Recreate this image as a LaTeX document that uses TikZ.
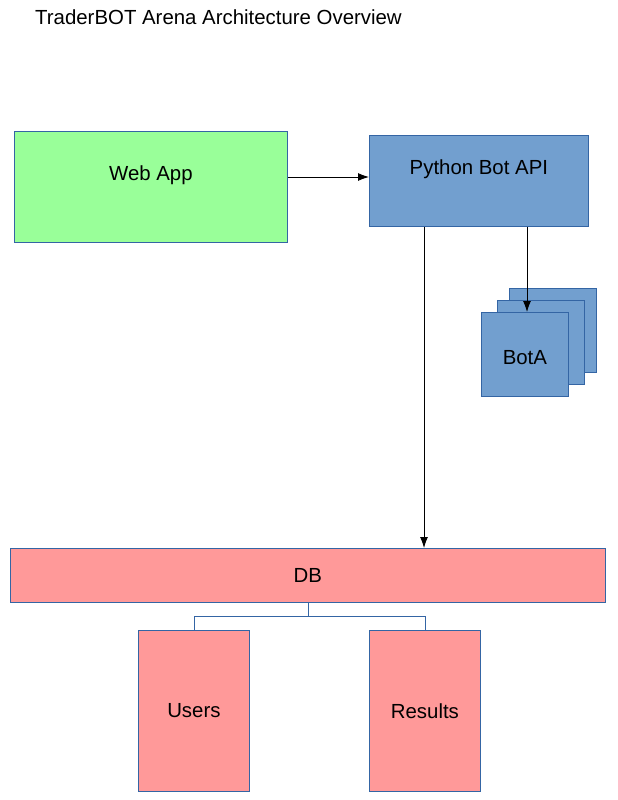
\documentclass[tikz,border=0pt]{standalone}
\usepackage{fontspec}
\setmainfont{Liberation Sans}
\usetikzlibrary{arrows.meta}
\usetikzlibrary{positioning}
\definecolor{edge}{HTML}{3465A4}
\definecolor{apigreen}{HTML}{99FF99}
\definecolor{botblue}{HTML}{729FCF}
\definecolor{dbred}{HTML}{FF9999}
\tikzset{>={Latex[length=11pt,width=8pt]}, font=\fontsize{20.4}{22}\selectfont}
\tikzstyle{block} = [draw=edge, line width=0.8pt, rectangle, inner sep=0pt, anchor=north west]
\tikzstyle{bot} = [block, fill=botblue, minimum width=87, minimum height=84]
\tikzstyle{table} = [block, fill=dbred, minimum width=111, minimum height=161]
\tikzstyle{link} = [draw=edge, line width=0.8pt]
\tikzstyle{flow} = [->, line width=0.9pt]

\begin{document}
\begin{tikzpicture}[x=1pt, y=-1pt]
    \useasboundingbox [fill=white] (0,0) rectangle (618,800);
    \node [anchor=base west, inner sep=0pt] (title) at (35,25) {TraderBOT Arena Architecture Overview};

    \node [block, fill=apigreen, minimum width=273, minimum height=111, label={[yshift=11.5]center:Web App}] (webapp) at (14,131) {};
    \node [block, fill=botblue, minimum width=219, minimum height=91, label={[yshift=11.5]center:Python Bot API}] (api) at (369,135) {};

    % stack of bots
    \node [bot] (bot_c) at (509,288) {};
    \node [bot] (bot_b) at (497,300) {};
    \node [bot, label={[yshift=-3]center:BotA}] (bot_a) at (481,312) {};

    \node [block, fill=dbred, minimum width=595, minimum height=54] (db) at (10,548) {DB};
    \node [table] (users) at (138,630) {Users};
    \node [table] (results) at (369,630) {Results};

    \coordinate (split) at ([yshift=-14]db.south);

    \draw [flow] (webapp.east |- 0,177) -- (api.west |- 0,177);
    \draw [flow] (api.south -| 424,0) -- (db.north -| 424,0);
    \draw [flow] (api.south -| 527,0) -- (bot_a.north -| 527,0);
    \draw [link] (db.south) -- (split);
    \draw [link] (users.north) |- (split) -| (results.north);
\end{tikzpicture}
\end{document}
